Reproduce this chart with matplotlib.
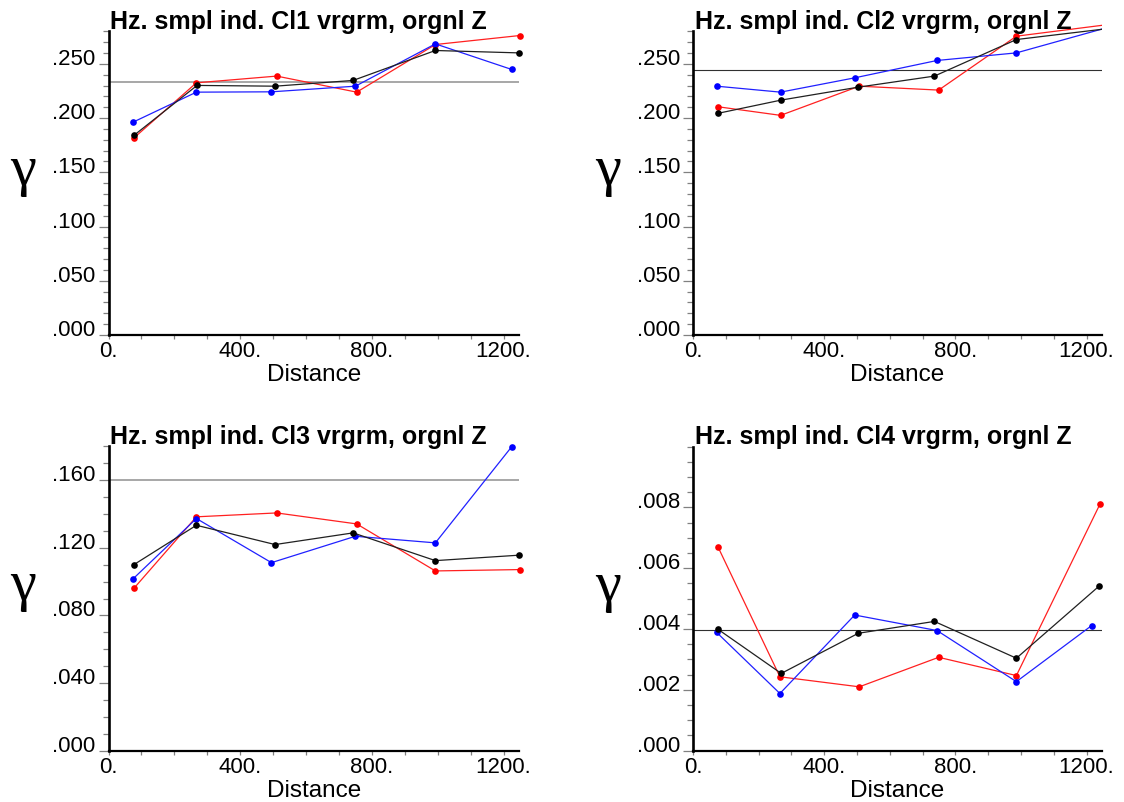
import matplotlib
matplotlib.use("Agg")
import matplotlib.pyplot as plt
import numpy as np

plt.rcParams['font.family'] = ['Liberation Sans', 'DejaVu Sans']

W, H = 1124, 803

TITLES = ["Hz. smpl ind. Cl1 vrgrm, orgnl Z", "Hz. smpl ind. Cl2 vrgrm, orgnl Z",
          "Hz. smpl ind. Cl3 vrgrm, orgnl Z", "Hz. smpl ind. Cl4 vrgrm, orgnl Z"]
X_LABEL = "Distance"
Y_LABEL = "γ"

# ---- data: panel 1 ----
P1_X_RED = [78, 267, 511, 754, 993, 1249]
P1_Y_RED = [0.1819, 0.2325, 0.2387, 0.2239, 0.2678, 0.2761]
P1_X_BLUE = [75, 267, 495, 750, 993, 1225]
P1_Y_BLUE = [0.1963, 0.2239, 0.2242, 0.2294, 0.2684, 0.2448]
P1_X_BLACK = [77, 269, 506, 743, 993, 1246]
P1_Y_BLACK = [0.1840, 0.2301, 0.2294, 0.2347, 0.2623, 0.2601]
P1_SILL = 0.2331

# ---- data: panel 2 ----
P2_X_RED = [77, 267, 507, 749, 986, 1265]
P2_Y_RED = [0.2104, 0.2025, 0.2294, 0.2258, 0.2755, 0.2862]
P2_X_BLUE = [72, 267, 493, 744, 986, 1265]
P2_Y_BLUE = [0.2294, 0.2239, 0.2371, 0.2531, 0.2601, 0.2836]
P2_X_BLACK = [75, 269, 504, 736, 986, 1265]
P2_Y_BLACK = [0.2043, 0.2166, 0.2285, 0.2387, 0.2724, 0.2825]
P2_SILL = 0.2439

# ---- data: panel 3 ----
P3_X_RED = [78, 267, 511, 754, 993, 1249]
P3_Y_RED = [0.0962, 0.1383, 0.1406, 0.1341, 0.1063, 0.1071]
P3_X_BLUE = [75, 267, 495, 750, 993, 1225]
P3_Y_BLUE = [0.1017, 0.1373, 0.1112, 0.1268, 0.1229, 0.1798]
P3_X_BLACK = [77, 267, 506, 743, 993, 1246]
P3_Y_BLACK = [0.1100, 0.1333, 0.1219, 0.1288, 0.1124, 0.1156]
P3_SILL = 0.160

# ---- data: panel 4 ----
P4_X_RED = [77, 265, 507, 749, 986, 1241]
P4_Y_RED = [0.00668, 0.00243, 0.00210, 0.00307, 0.00247, 0.00811]
P4_X_BLUE = [72, 265, 493, 744, 986, 1215]
P4_Y_BLUE = [0.00389, 0.00188, 0.00446, 0.00395, 0.00227, 0.00411]
P4_X_BLACK = [75, 269, 504, 736, 986, 1237]
P4_Y_BLACK = [0.00400, 0.00254, 0.00386, 0.00425, 0.00304, 0.00540]
P4_SILL = 0.00397

X_MAJOR = [0, 400, 800, 1200]
X_MINOR_STEP = 100
X_MAX = 1247

Y_TOPS = [0.28, 0.28, 0.18, 0.010]
Y_MAJOR_STEPS = [0.05, 0.05, 0.04, 0.002]
Y_MAJOR_MAX = [0.25, 0.25, 0.16, 0.008]
Y_MINOR_STEPS = [0.01, 0.01, 0.01, 0.0005]

panels = [
    dict(series=[(P1_X_RED, P1_Y_RED, 'red'), (P1_X_BLUE, P1_Y_BLUE, 'blue'), (P1_X_BLACK, P1_Y_BLACK, 'black')],
         sill=P1_SILL, sill_color='#a0a0a0', sill_lw=1.3, clip=False,
         box=(108.5, 519.0, 32.3, 336.0)),
    dict(series=[(P2_X_RED, P2_Y_RED, 'red'), (P2_X_BLUE, P2_Y_BLUE, 'blue'), (P2_X_BLACK, P2_Y_BLACK, 'black')],
         sill=P2_SILL, sill_color='#303030', sill_lw=0.8, clip=True,
         box=(693.0, 1102.0, 32.3, 336.0)),
    dict(series=[(P3_X_RED, P3_Y_RED, 'red'), (P3_X_BLUE, P3_Y_BLUE, 'blue'), (P3_X_BLACK, P3_Y_BLACK, 'black')],
         sill=P3_SILL, sill_color='#a0a0a0', sill_lw=1.3, clip=False,
         box=(108.5, 519.0, 447.3, 751.7)),
    dict(series=[(P4_X_RED, P4_Y_RED, 'red'), (P4_X_BLUE, P4_Y_BLUE, 'blue'), (P4_X_BLACK, P4_Y_BLACK, 'black')],
         sill=P4_SILL, sill_color='#303030', sill_lw=0.8, clip=False,
         box=(693.0, 1102.0, 447.5, 751.7)),
]

fig = plt.figure(figsize=(W / 100, H / 100), dpi=100)
EXTRA = 22  # px of axes box above the drawn spine top

line_colors = {'red': '#ff2020', 'blue': '#2020ff', 'black': '#202020'}
mk_colors = {'red': '#ff0000', 'blue': '#0000ff', 'black': '#000000'}

for i, p in enumerate(panels):
    l, r, t, b = p['box']
    box_top = t - EXTRA
    ax = fig.add_axes([l / W, 1 - b / H, (r - l) / W, (b - box_top) / H])
    ytop = Y_TOPS[i]
    ylim_top = ytop * (b - box_top) / (b - t)
    ax.set_xlim(0, X_MAX)
    ax.set_ylim(0, ylim_top)
    ax.patch.set_alpha(0)

    ax.axhline(p['sill'], color=p['sill_color'], lw=p['sill_lw'], zorder=1)

    for k, (xs, ys, c) in enumerate(p['series']):
        ax.plot(xs, ys, '-', color=line_colors[c], lw=0.9, zorder=2 + k, clip_on=p['clip'])
        ax.plot(xs, ys, 'o', color=mk_colors[c], ms=4.8, mec='none', zorder=2 + k, clip_on=p['clip'])

    for s in ['top', 'right']:
        ax.spines[s].set_visible(False)
    ax.spines['left'].set_bounds(0, ytop)
    ax.spines['left'].set_linewidth(1.9)
    ax.spines['bottom'].set_linewidth(1.6)

    ymaj = np.arange(0, Y_MAJOR_MAX[i] + 1e-12, Y_MAJOR_STEPS[i])
    ymin = np.arange(0, ytop + 1e-12, Y_MINOR_STEPS[i])
    ax.set_yticks(ymaj)
    ax.set_yticks(ymin, minor=True)
    ax.set_yticklabels([("%.3f" % v).lstrip('0') for v in ymaj])
    for lab in ax.get_yticklabels():
        lab.set_verticalalignment('baseline')
    ax.set_xticks(X_MAJOR)
    ax.set_xticks(np.arange(0, 1200 + 1, X_MINOR_STEP), minor=True)
    ax.set_xticklabels(["%d." % v for v in X_MAJOR])

    ax.tick_params(axis='y', which='major', length=7.2, width=0.9, color='#808080',
                   pad=2.0, labelsize=16, direction='out')
    ax.tick_params(axis='y', which='minor', length=4.2, width=0.9, color='#808080', direction='out')
    ax.tick_params(axis='x', which='both', length=3.0, width=0.9, color='#808080',
                   pad=0.5, labelsize=16, direction='out')

    # titles, axis labels
    fig.text((l + 2) / W, 1 - (t - 3.5) / H, TITLES[i], fontsize=18, fontweight='bold',
             ha='left', va='baseline')
    fig.text(((l + r) / 2) / W, 1 - (b + 45.5) / H, X_LABEL, fontsize=17.5, ha='center', va='baseline')
    fig.text((l - 85) / W, 1 - ((t + b) / 2 + 1) / H, Y_LABEL, fontsize=42,
             family=['Liberation Serif', 'DejaVu Serif'], ha='center', va='baseline')

fig.savefig("out.png", dpi=100)
